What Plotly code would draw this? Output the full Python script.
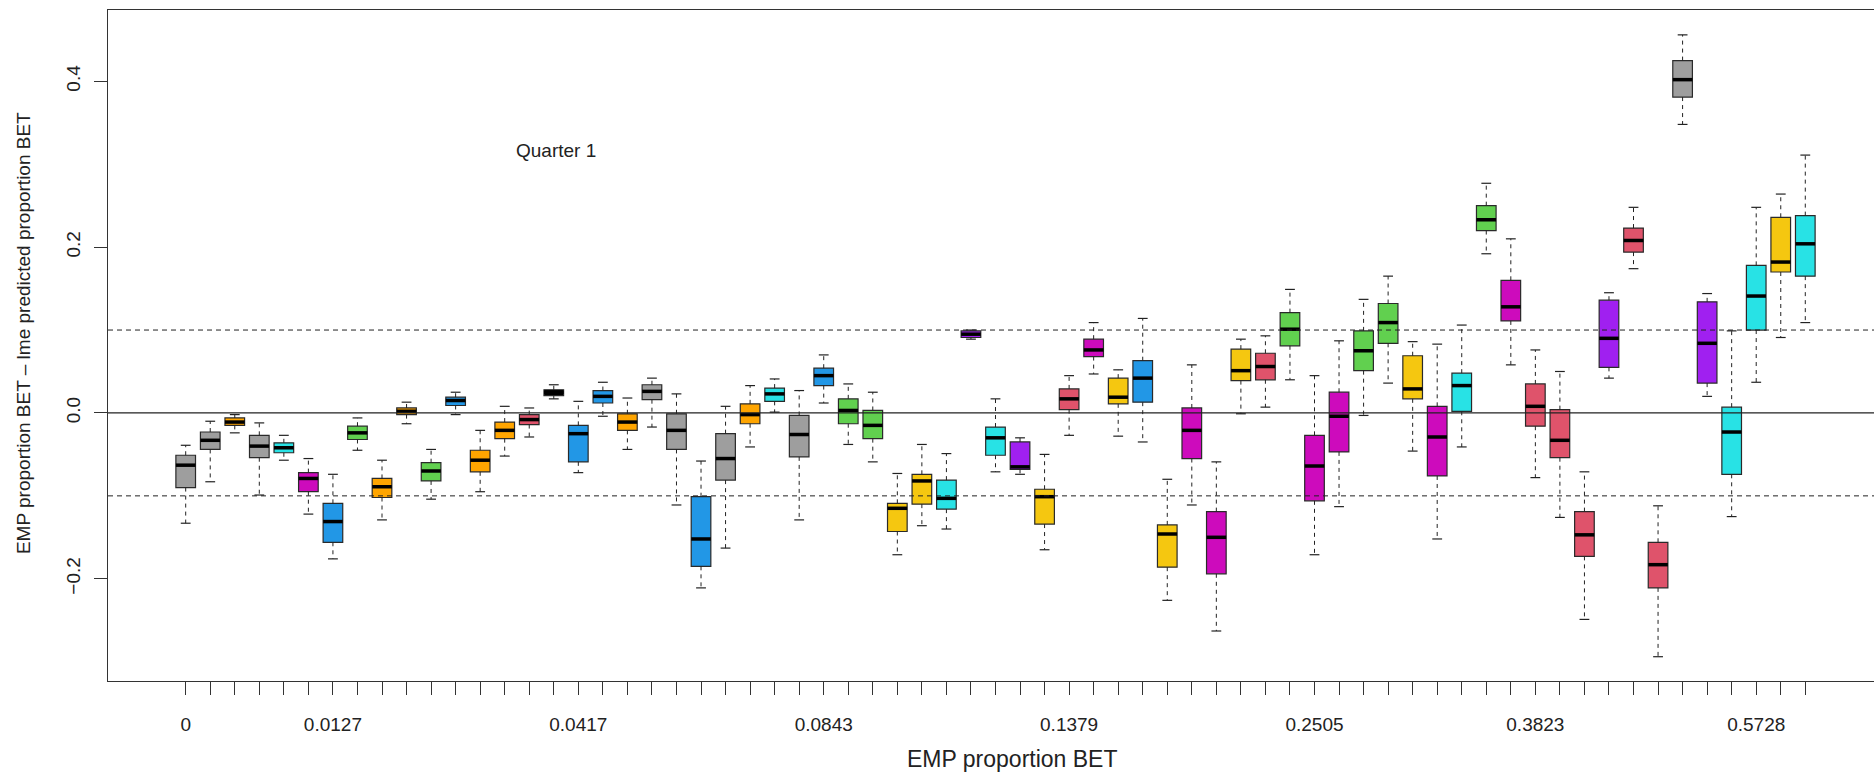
import plotly.graph_objects as go

# ---- data ----
lower_whisker = [-0.133, -0.083, -0.024, -0.099, -0.057, -0.122, -0.176, -0.045, -0.129, -0.013,
                 -0.104, -0.002, -0.095, -0.052, -0.029, 0.017, -0.072, -0.004, -0.044, -0.017,
                 -0.111, -0.211, -0.163, -0.041, 0.001, -0.129, 0.012, -0.038, -0.059, -0.171,
                 -0.136, -0.140, 0.089, -0.071, -0.074, -0.165, -0.027, 0.047, -0.028, -0.035,
                 -0.226, -0.111, -0.263, -0.001, 0.007, 0.040, -0.171, -0.113, -0.003, 0.036,
                 -0.046, -0.152, -0.041, 0.192, 0.058, -0.078, -0.126, -0.249, 0.042, 0.174,
                 -0.294, 0.348, 0.020, -0.125, 0.037, 0.091, 0.109]
q1 = [-0.090, -0.044, -0.015, -0.054, -0.048, -0.095, -0.156, -0.032, -0.102, -0.002,
      -0.082, 0.009, -0.071, -0.031, -0.014, 0.021, -0.059, 0.012, -0.021, 0.016,
      -0.044, -0.185, -0.081, -0.013, 0.014, -0.053, 0.033, -0.013, -0.031, -0.143,
      -0.110, -0.116, 0.091, -0.051, -0.068, -0.134, 0.004, 0.068, 0.011, 0.013,
      -0.186, -0.055, -0.194, 0.039, 0.040, 0.081, -0.106, -0.047, 0.051, 0.084,
      0.017, -0.076, 0.002, 0.220, 0.111, -0.016, -0.054, -0.173, 0.055, 0.194,
      -0.211, 0.381, 0.036, -0.074, 0.100, 0.170, 0.165]
median = [-0.063, -0.033, -0.011, -0.040, -0.042, -0.079, -0.131, -0.024, -0.089, 0.002,
          -0.070, 0.015, -0.057, -0.021, -0.008, 0.025, -0.025, 0.020, -0.011, 0.026,
          -0.021, -0.152, -0.055, -0.002, 0.023, -0.026, 0.045, 0.003, -0.015, -0.115,
          -0.082, -0.103, 0.095, -0.030, -0.065, -0.101, 0.017, 0.076, 0.019, 0.042,
          -0.146, -0.021, -0.150, 0.051, 0.056, 0.101, -0.064, -0.004, 0.075, 0.109,
          0.029, -0.029, 0.033, 0.233, 0.128, 0.008, -0.033, -0.147, 0.090, 0.208,
          -0.183, 0.402, 0.084, -0.023, 0.141, 0.182, 0.204]
q3 = [-0.051, -0.023, -0.006, -0.027, -0.036, -0.072, -0.109, -0.016, -0.079, 0.006,
      -0.060, 0.019, -0.045, -0.011, -0.002, 0.028, -0.015, 0.027, -0.001, 0.034,
      -0.001, -0.101, -0.025, 0.011, 0.030, -0.003, 0.054, 0.017, 0.003, -0.109,
      -0.074, -0.081, 0.099, -0.017, -0.035, -0.092, 0.029, 0.089, 0.042, 0.063,
      -0.135, 0.006, -0.119, 0.077, 0.072, 0.121, -0.027, 0.025, 0.099, 0.132,
      0.069, 0.008, 0.048, 0.250, 0.160, 0.035, 0.004, -0.119, 0.136, 0.223,
      -0.156, 0.425, 0.134, 0.007, 0.178, 0.236, 0.238]
upper_whisker = [-0.039, -0.010, -0.002, -0.012, -0.027, -0.055, -0.074, -0.006, -0.057, 0.013,
                 -0.044, 0.025, -0.021, 0.008, 0.006, 0.034, 0.014, 0.037, 0.018, 0.042,
                 0.023, -0.058, 0.008, 0.033, 0.041, 0.027, 0.070, 0.035, 0.025, -0.073,
                 -0.038, -0.049, 0.100, 0.017, -0.030, -0.050, 0.045, 0.109, 0.052, 0.114,
                 -0.080, 0.058, -0.059, 0.089, 0.093, 0.149, 0.045, 0.087, 0.137, 0.165,
                 0.086, 0.083, 0.106, 0.277, 0.210, 0.076, 0.050, -0.071, 0.145, 0.248,
                 -0.112, 0.456, 0.144, 0.099, 0.248, 0.264, 0.311]
box_colors = ["gray", "gray", "orange", "gray", "cyan", "magenta", "blue", "green", "orange", "orange",
              "green", "blue", "orange", "orange", "red", "black", "blue", "blue", "orange", "gray",
              "gray", "blue", "gray", "orange", "cyan", "gray", "blue", "green", "green", "yellow",
              "yellow", "cyan", "purple", "cyan", "purple", "yellow", "red", "magenta", "yellow", "blue",
              "yellow", "magenta", "magenta", "yellow", "red", "green", "magenta", "magenta", "green", "green",
              "yellow", "magenta", "cyan", "green", "magenta", "red", "red", "red", "purple", "red",
              "red", "gray", "purple", "cyan", "cyan", "yellow", "cyan"]
tick_label_positions = [1, 7, 17, 27, 37, 47, 56, 65]
tick_label_texts = ["0", "0.0127", "0.0417", "0.0843", "0.1379", "0.2505", "0.3823", "0.5728"]
y_tick_values = [-0.2, 0.0, 0.2, 0.4]
y_tick_texts = ["\u22120.2", "0.0", "0.2", "0.4"]
reference_lines = [-0.1, 0.0, 0.1]

# ---- styling ----
palette = {"gray": "#9E9E9E", "red": "#DF536B", "green": "#61D04F", "blue": "#2297E6",
           "cyan": "#28E2E5", "magenta": "#CD0BBC", "yellow": "#F5C710", "orange": "#FFA500",
           "purple": "#A020F0", "black": "#000000"}
FONT = "Liberation Sans, Arial, sans-serif"
FS = 19
BOX_W = 0.8
CAP_W = 0.4

n = len(median)
pos = list(range(1, n + 1))

fig = go.Figure()

# boxes
fig.add_trace(go.Bar(
    x=pos, y=[b - a for a, b in zip(q1, q3)], base=q1, width=BOX_W,
    marker=dict(color=[palette[c] for c in box_colors], line=dict(color="#2a2a2a", width=1.2)),
    hoverinfo="skip", showlegend=False))

# dashed whiskers
wx, wy = [], []
for p, a, lo, hi, b in zip(pos, lower_whisker, q1, q3, upper_whisker):
    wx += [p, p, None, p, p, None]
    wy += [hi, b, None, lo, a, None]
fig.add_trace(go.Scatter(x=wx, y=wy, mode="lines", line=dict(color="#222", width=1, dash="4px,4px"),
                         hoverinfo="skip", showlegend=False))

# whisker caps
cx, cy = [], []
for p, a, b in zip(pos, lower_whisker, upper_whisker):
    cx += [p - CAP_W / 2, p + CAP_W / 2, None, p - CAP_W / 2, p + CAP_W / 2, None]
    cy += [b, b, None, a, a, None]
fig.add_trace(go.Scatter(x=cx, y=cy, mode="lines", line=dict(color="#222", width=1.2),
                         hoverinfo="skip", showlegend=False))

# medians
mx, my = [], []
for p, m in zip(pos, median):
    mx += [p - BOX_W / 2, p + BOX_W / 2, None]
    my += [m, m, None]
fig.add_trace(go.Scatter(x=mx, y=my, mode="lines", line=dict(color="#000", width=3.5),
                         hoverinfo="skip", showlegend=False))

# reference lines
for h in reference_lines:
    fig.add_shape(type="line", xref="paper", x0=0, x1=1, yref="y", y0=h, y1=h, layer="above",
                  line=dict(color="#222", width=1.2 if h == 0 else 1,
                            dash="solid" if h == 0 else "5px,4px"))

ticktext = [tick_label_texts[tick_label_positions.index(p)] if p in tick_label_positions else ""
            for p in pos]

fig.update_layout(
    width=1874, height=778,
    margin=dict(l=108, r=0, t=10, b=97),
    paper_bgcolor="white", plot_bgcolor="white",
    font=dict(family=FONT, size=FS, color="#222"),
    showlegend=False,
    xaxis=dict(range=[-2.166, 69.80], tickmode="array", tickvals=pos, ticktext=ticktext,
               ticks="outside", ticklen=13, tickwidth=1, tickcolor="#333",
               showline=True, linecolor="#333", linewidth=1, mirror=True,
               showgrid=False, zeroline=False, ticklabelstandoff=13),
    yaxis=dict(range=[-0.3233, 0.486], tickmode="array", tickvals=y_tick_values, ticktext=y_tick_texts,
               ticks="outside", ticklen=13, tickwidth=1, tickcolor="#333", tickangle=-90,
               showline=True, linecolor="#333", linewidth=1, ticklabelstandoff=6,
               showgrid=False, zeroline=False),
    annotations=[
        dict(text="Quarter 1", x=16.09, y=0.317, xref="x", yref="y", showarrow=False,
             font=dict(size=FS, family=FONT)),
        dict(text="EMP proportion BET", x=0.512, y=-0.1162, xref="paper", yref="paper",
             showarrow=False, xanchor="center", yanchor="middle", font=dict(size=23, family=FONT)),
        dict(text="EMP proportion BET \u2013 lme predicted proportion BET", x=-0.0481, y=0.5186,
             xref="paper", yref="paper", showarrow=False, textangle=-90,
             xanchor="center", yanchor="middle", font=dict(size=FS, family=FONT)),
    ],
)

fig.write_html("out.html")
